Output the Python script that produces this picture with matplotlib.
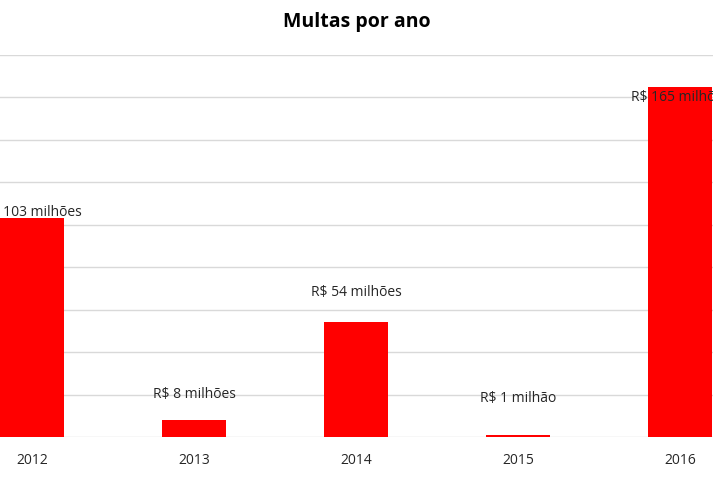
import matplotlib
matplotlib.use("Agg")
import matplotlib.pyplot as plt

# ── データ ──────────────────────────────
years  = ["2012", "2013", "2014", "2015", "2016"]
values = [103, 8, 54, 1, 165]
labels = ["R$ 103 milhões", "R$ 8 milhões", "R$ 54 milhões",
          "R$ 1 milhão", "R$ 165 milhões"]

# ラベル位置（値に対するオフセット、単位はデータ）
label_offsets = [3, 12, 14, 17, -5]

plt.rcParams["font.family"] = ["Open Sans", "DejaVu Sans"]

fig = plt.figure(figsize=(7.13, 4.91), dpi=100)
ax = fig.add_axes([0, 0.11, 1, 0.778])

x = range(len(years))
ax.bar(x, values, width=0.395, color="#ff0000", zorder=3)

ax.set_xlim(-0.198, 4.204)
ax.set_ylim(0, 180)
ax.set_yticks(range(0, 181, 20))
ax.yaxis.grid(True, color="#d9d9d9", linewidth=1, zorder=0)
ax.tick_params(axis="y", left=False, labelleft=False)
ax.tick_params(axis="x", bottom=False, labelsize=10, colors="#262626", pad=8)
ax.set_xticks(list(x))
ax.set_xticklabels(years)
for s in ax.spines.values():
    s.set_visible(False)

# 参照画像でも端のラベルは切れている
for i, (v, lab, off) in enumerate(zip(values, labels, label_offsets)):
    ax.text(i, v + off, lab, ha="center", va="center", fontsize=10,
            color="#262626", clip_on=True, zorder=4)

fig.text(0.5, 0.955, "Multas por ano", ha="center", va="center",
         fontsize=14, fontweight="bold", color="#000000")

fig.savefig("out.png", dpi=100)
